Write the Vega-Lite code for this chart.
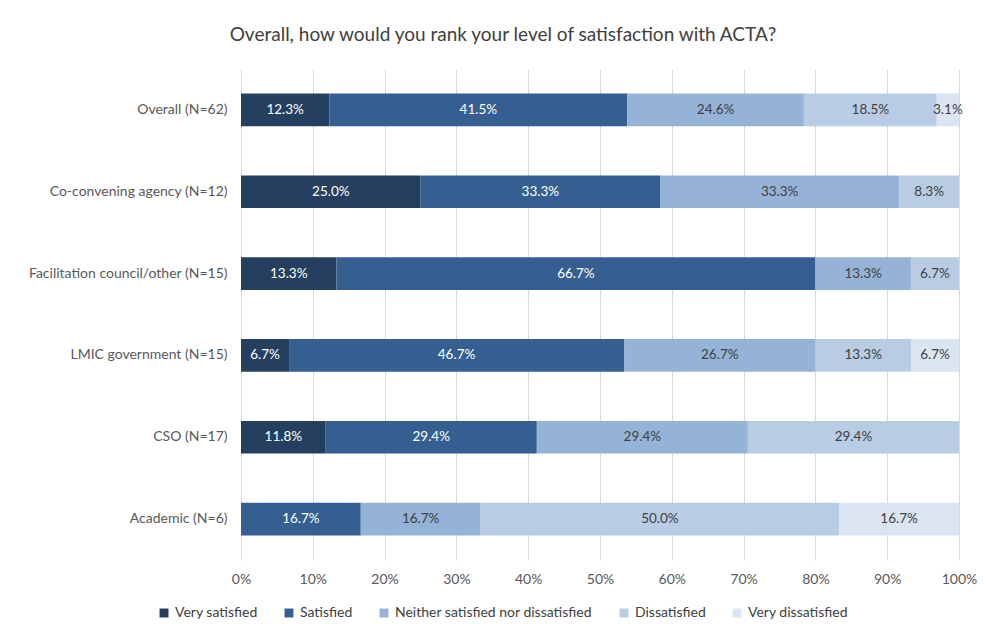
{
  "$schema": "https://vega.github.io/schema/vega-lite/v6.json",
  "width": 718,
  "height": 491,
  "padding": {"left": 28, "top": 26, "right": 24, "bottom": 5},
  "background": "white",
  "title": {
    "text": "Overall, how would you rank your level of satisfaction with ACTA?",
    "fontSize": 19,
    "font": "Lato",
    "fontWeight": "normal",
    "color": "#404040",
    "anchor": "middle",
    "frame": "group",
    "dx": -97,
    "offset": 24
  },
  "data": {
    "values": [
      {"group": "Overall (N=62)", "response": "Very satisfied", "k": 1, "value": 0.123},
      {"group": "Overall (N=62)", "response": "Satisfied", "k": 2, "value": 0.415},
      {"group": "Overall (N=62)", "response": "Neither satisfied nor dissatisfied", "k": 3, "value": 0.246},
      {"group": "Overall (N=62)", "response": "Dissatisfied", "k": 4, "value": 0.185},
      {"group": "Overall (N=62)", "response": "Very dissatisfied", "k": 5, "value": 0.031},
      {"group": "Co-convening agency (N=12)", "response": "Very satisfied", "k": 1, "value": 0.25},
      {"group": "Co-convening agency (N=12)", "response": "Satisfied", "k": 2, "value": 0.333},
      {"group": "Co-convening agency (N=12)", "response": "Neither satisfied nor dissatisfied", "k": 3, "value": 0.333},
      {"group": "Co-convening agency (N=12)", "response": "Dissatisfied", "k": 4, "value": 0.083},
      {"group": "Facilitation council/other (N=15)", "response": "Very satisfied", "k": 1, "value": 0.133},
      {"group": "Facilitation council/other (N=15)", "response": "Satisfied", "k": 2, "value": 0.667},
      {"group": "Facilitation council/other (N=15)", "response": "Neither satisfied nor dissatisfied", "k": 3, "value": 0.133},
      {"group": "Facilitation council/other (N=15)", "response": "Dissatisfied", "k": 4, "value": 0.067},
      {"group": "LMIC government (N=15)", "response": "Very satisfied", "k": 1, "value": 0.067},
      {"group": "LMIC government (N=15)", "response": "Satisfied", "k": 2, "value": 0.467},
      {"group": "LMIC government (N=15)", "response": "Neither satisfied nor dissatisfied", "k": 3, "value": 0.267},
      {"group": "LMIC government (N=15)", "response": "Dissatisfied", "k": 4, "value": 0.133},
      {"group": "LMIC government (N=15)", "response": "Very dissatisfied", "k": 5, "value": 0.067},
      {"group": "CSO (N=17)", "response": "Very satisfied", "k": 1, "value": 0.118},
      {"group": "CSO (N=17)", "response": "Satisfied", "k": 2, "value": 0.294},
      {"group": "CSO (N=17)", "response": "Neither satisfied nor dissatisfied", "k": 3, "value": 0.294},
      {"group": "CSO (N=17)", "response": "Dissatisfied", "k": 4, "value": 0.294},
      {"group": "Academic (N=6)", "response": "Satisfied", "k": 2, "value": 0.167},
      {"group": "Academic (N=6)", "response": "Neither satisfied nor dissatisfied", "k": 3, "value": 0.167},
      {"group": "Academic (N=6)", "response": "Dissatisfied", "k": 4, "value": 0.5},
      {"group": "Academic (N=6)", "response": "Very dissatisfied", "k": 5, "value": 0.167}
    ]
  },
  "encoding": {
    "y": {
      "field": "group",
      "type": "nominal",
      "sort": ["Overall (N=62)", "Co-convening agency (N=12)", "Facilitation council/other (N=15)", "LMIC government (N=15)", "CSO (N=17)", "Academic (N=6)"],
      "scale": {"paddingInner": 0.6, "paddingOuter": 0.3},
      "axis": {
        "title": null,
        "domain": false,
        "ticks": false,
        "labelPadding": 14,
        "labelFontSize": 14,
        "labelFont": "Lato",
        "labelColor": "#595959",
        "labelLimit": 400
      }
    },
    "order": {"field": "k", "type": "quantitative"}
  },
  "layer": [
    {
      "mark": {"type": "bar"},
      "encoding": {
        "x": {
          "field": "value",
          "type": "quantitative",
          "stack": "normalize",
          "scale": {"domain": [0, 1], "nice": false},
          "axis": {
            "title": null,
            "format": ".0%",
            "values": [0, 0.1, 0.2, 0.3, 0.4, 0.5, 0.6, 0.7, 0.8, 0.9, 1],
            "domain": false,
            "ticks": false,
            "labelOverlap": false,
            "labelPadding": 12,
            "labelFontSize": 14,
            "labelFont": "Lato",
            "labelColor": "#595959",
            "gridColor": "#d9d9d9",
            "labelFlush": false
          }
        },
        "color": {
          "field": "response",
          "type": "nominal",
          "scale": {
            "domain": ["Very satisfied", "Satisfied", "Neither satisfied nor dissatisfied", "Dissatisfied", "Very dissatisfied"],
            "range": ["#243f60", "#365f91", "#95b3d7", "#b8cce4", "#dbe5f1"]
          },
          "legend": {
            "title": null,
            "orient": "none",
            "legendX": -84,
            "legendY": 537,
            "direction": "horizontal",
            "symbolType": "square",
            "symbolSize": 80,
            "symbolStrokeWidth": 0,
            "labelFontSize": 14,
            "labelFont": "Lato",
            "labelColor": "#404040",
            "columnPadding": 24,
            "labelLimit": 400
          }
        }
      }
    },
    {
      "mark": {"type": "text", "fontSize": 13.5, "font": "Lato"},
      "encoding": {
        "x": {"field": "value", "type": "quantitative", "stack": "normalize", "bandPosition": 0.5},
        "text": {"field": "value", "type": "quantitative", "format": ".1%"},
        "color": {
          "condition": {"test": "datum.k <= 2", "value": "white"},
          "value": "#404040"
        }
      }
    }
  ],
  "config": {"view": {"stroke": null}}
}
